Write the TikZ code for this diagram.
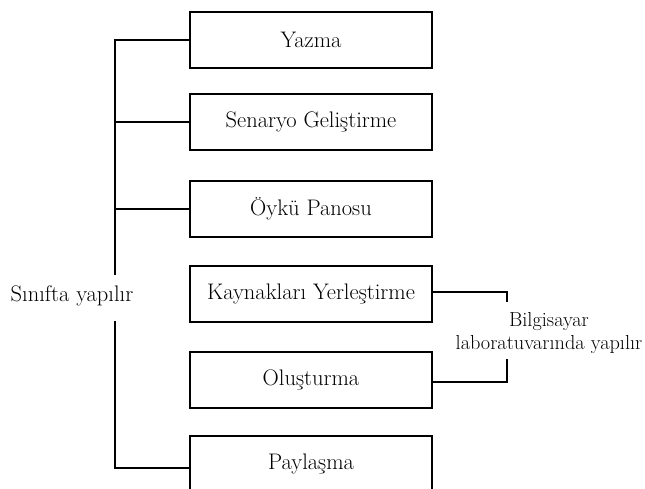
\documentclass[tikz,border=0pt]{standalone}
\usepackage{fontspec}
\begin{document}
\begin{tikzpicture}[x=1pt,y=-1pt,
  stagebox/.style={draw, line width=1.1pt, minimum width=242pt, minimum height=56pt,
    inner sep=0pt, font=\fontsize{22.5}{27}\selectfont},
  note/.style={font=\fontsize{22.5}{27}\selectfont, inner sep=0pt},
  link/.style={line width=1.1pt}]
\clip (0,0) rectangle (645,489);
\fill[white] (0,0) rectangle (645,489);

% stage boxes
\node[stagebox] (yazma) at (311,40)  {Yazma};
\node[stagebox] (senaryo) at (311,122) {Senaryo Geliştirme};
\node[stagebox] (oyku) at (311,209) {Öykü Panosu};
\node[stagebox] (kaynak) at (311,294) {Kaynakları Yerleştirme};
\node[stagebox] (olustur) at (311,380) {Oluşturma};
\node[stagebox] (paylas) at (311,464) {Paylaşma};

% side labels
\node[note] (sinif) at (72,296) {Sınıfta yapılır};
\node[note, align=center, font=\fontsize{20.3}{23}\selectfont] (lab) at (549,333)
  {Bilgisayar\\laboratuvarında yapılır};

% left spine joining the classroom stages
\coordinate (spTop) at (115,40);
\coordinate (spGapA) at (115,275);
\coordinate (spGapB) at (115,321);
\coordinate (spBot) at (115,468);
\draw[link] (yazma.west) -- (spTop) -- (spGapA);
\draw[link] (spGapB) -- (spBot) -- (paylas.west |- spBot);
\draw[link] (senaryo.west) -- (senaryo.west -| spTop);
\draw[link] (oyku.west) -- (oyku.west -| spTop);

% right bracket for the lab stages
\coordinate (brTop) at (507,292);
\coordinate (brTopEnd) at (507,302);
\coordinate (brBot) at (507,382);
\coordinate (brBotEnd) at (507,359);
\draw[link] (kaynak.east |- brTop) -- (brTop) -- (brTopEnd);
\draw[link] (olustur.east |- brBot) -- (brBot) -- (brBotEnd);
\end{tikzpicture}
\end{document}
